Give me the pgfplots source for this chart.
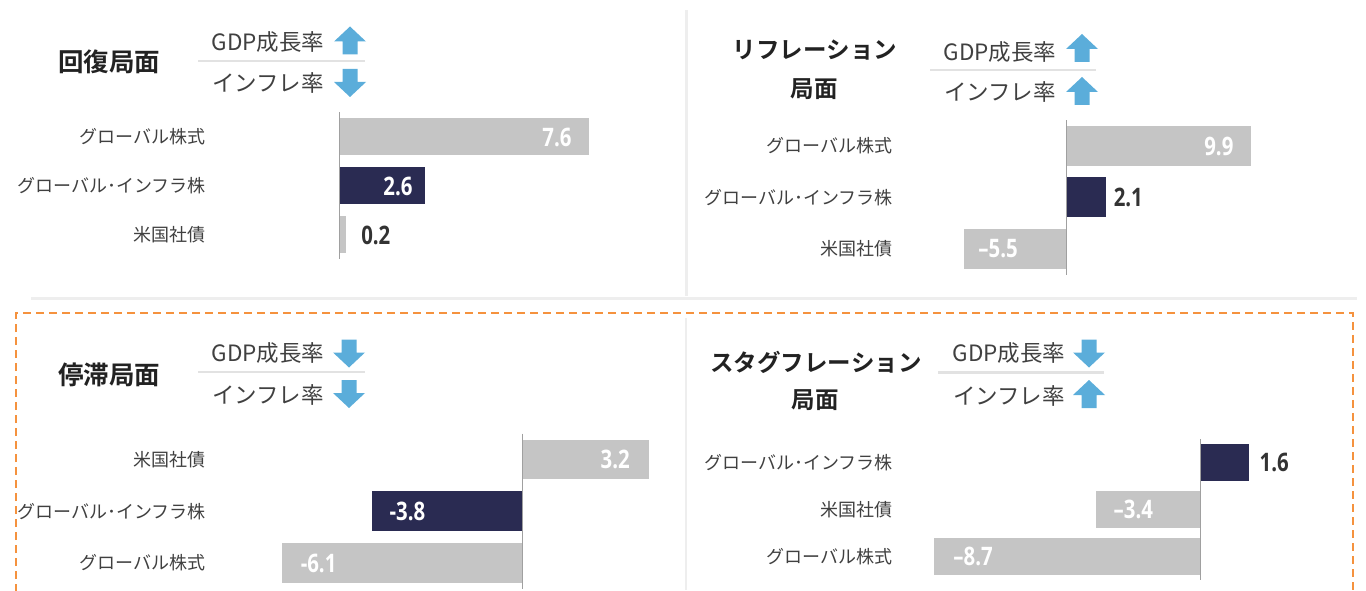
\documentclass[border=0pt]{standalone}
\usepackage{fontspec}
\usepackage{pgfplots}
\pgfplotsset{compat=1.18}
\setmainfont{Noto Sans CJK JP}[BoldFont={Noto Sans CJK JP Bold}]
\newfontfamily\valfam{Open Sans}[FakeStretch=0.8]
\definecolor{cgray}{HTML}{C5C5C5}
\definecolor{navy}{HTML}{2A2B52}
\definecolor{arrowblue}{HTML}{5BADDA}
\definecolor{labelc}{HTML}{404040}
\definecolor{valdark}{HTML}{333333}
\definecolor{titlec}{HTML}{222222}
\definecolor{axisc}{HTML}{A0A0A0}
\definecolor{sepc}{HTML}{E2E2E2}
\definecolor{framec}{HTML}{EEEEEE}
\definecolor{orangec}{HTML}{F5923E}
\newcommand\catfont{\fontsize{18}{20}\selectfont}
\newcommand\hdfont{\fontsize{22.5}{26}\selectfont}
\newcommand\titlefont{\fontsize{25.5}{30}\selectfont\bfseries}
\newcommand\titlefontb{\fontsize{23.5}{28}\selectfont\bfseries}
\newcommand\valfont{\valfam\bfseries\fontsize{25.5}{28}\selectfont}
\pgfplotsset{
  panel/.style={xbar, scale only axis, clip=false, y dir=reverse,
    ymin=-0.5, ymax=2.5, ytick={0,1,2}, xtick=\empty,
    axis line style={draw=none}, major tick length=0pt,
    yticklabel style={font=\catfont, text=labelc, inner sep=0pt, anchor=east},
    anchor=north west},
  bars/.style={draw=none, bar shift=0pt, nodes near coords={\pgfplotspointmeta},
    point meta=explicit symbolic},
  vin/.style={every node near coord/.append style={anchor=east, xshift=-#1pt, text=white, font=\valfont, inner sep=0pt}},
  vout/.style={every node near coord/.append style={anchor=west, xshift=#1pt, text=valdark, font=\valfont, inner sep=0pt}},
  vneg/.style={every node near coord/.append style={anchor=west, xshift=#1pt, text=white, font=\valfont, inner sep=0pt}},
}
\tikzset{
  uparr/.pic={\fill[arrowblue] (0,14) -- (16,-1) -- (7.5,-1) -- (7.5,-14) -- (-7.5,-14) -- (-7.5,-1) -- (-16,-1) -- cycle;},
  downarr/.pic={\fill[arrowblue] (0,-14) -- (16,1) -- (7.5,1) -- (7.5,14) -- (-7.5,14) -- (-7.5,1) -- (-16,1) -- cycle;},
}
\begin{document}
\begin{tikzpicture}[x=1pt,y=1pt]
\useasboundingbox (0,0) rectangle (1366,590);
% frames
\draw[framec, line width=3pt] (686,580) -- (686,294);
\draw[framec, line width=3pt] (31,291) -- (1357,291);
\draw[framec, line width=2pt] (686,272) -- (686,0);
\draw[orangec, line width=2pt, dash pattern=on 8pt off 5pt] (16,-2) -- (16,277) -- (1353,277) -- (1353,-2);

% ---------- Panel 1 ----------
\node[font=\titlefont, text=titlec] at (109,528) {回復局面};
\node[font=\hdfont, text=labelc] at (268,548) {GDP成長率};
\node[font=\hdfont, text=labelc] at (268,507) {インフレ率};
\draw[sepc, line width=2.5pt] (198,529) -- (365,529);
\pic at (350,549.5) {uparr};
\pic at (350,507) {downarr};
\begin{axis}[panel, at={(206pt,477.5pt)}, width=474pt, height=147pt,
  xmin=-4.0701, xmax=10.381, bar width=37pt,
  yticklabels={グローバル株式, グローバル･インフラ株, 米国社債}]
\addplot[bars, fill=cgray, vin=17] coordinates {(7.6,0) [7.6]};
\addplot[bars, fill=navy, vin=12] coordinates {(2.6,1) [2.6]};
\addplot[bars, fill=cgray, vout=15] coordinates {(0.2,2) [0.2]};
\draw[axisc, line width=1.2pt] (axis cs:0,-0.5) -- (axis cs:0,2.5);
\end{axis}

% ---------- Panel 2 ----------
\node[font=\titlefontb, text=titlec] at (815,540) {リフレーション};
\node[font=\titlefontb, text=titlec] at (814,501) {局面};
\node[font=\hdfont, text=labelc] at (1000,538) {GDP成長率};
\node[font=\hdfont, text=labelc] at (1000,498) {インフレ率};
\draw[sepc, line width=2.5pt] (930,520) -- (1096,520);
\pic at (1082,542) {uparr};
\pic at (1082,499) {uparr};
\begin{axis}[panel, at={(893pt,469.75pt)}, width=467pt, height=154.5pt,
  xmin=-9.328, xmax=15.780, bar width=40pt,
  yticklabels={グローバル株式, グローバル･インフラ株, 米国社債}]
\addplot[bars, fill=cgray, vin=17] coordinates {(9.9,0) [9.9]};
\addplot[bars, fill=navy, vout=8] coordinates {(2.1,1) [2.1]};
\addplot[bars, fill=cgray, vneg=14] coordinates {(-5.5,2) [–5.5]};
\draw[axisc, line width=1.2pt] (axis cs:0,-0.5) -- (axis cs:0,2.5);
\end{axis}

% ---------- Panel 3 ----------
\node[font=\titlefont, text=titlec] at (109,215) {停滞局面};
\node[font=\hdfont, text=labelc] at (268,237) {GDP成長率};
\node[font=\hdfont, text=labelc] at (268,195) {インフレ率};
\draw[sepc, line width=2.5pt] (198,218) -- (365,218);
\pic at (349,236.5) {downarr};
\pic at (349,196) {downarr};
\begin{axis}[panel, at={(206pt,156.4pt)}, width=474pt, height=155.25pt,
  xmin=-8.0127, xmax=3.9873, bar width=39.5pt,
  yticklabels={米国社債, グローバル･インフラ株, グローバル株式}]
\addplot[bars, fill=cgray, vin=19] coordinates {(3.2,0) [3.2]};
\addplot[bars, fill=navy, vneg=17] coordinates {(-3.8,1) [-3.8]};
\addplot[bars, fill=cgray, vneg=19] coordinates {(-6.1,2) [-6.1]};
\draw[axisc, line width=1.2pt] (axis cs:0,-0.5) -- (axis cs:0,2.5);
\end{axis}

% ---------- Panel 4 ----------
\node[font=\titlefontb, text=titlec] at (816,228) {スタグフレーション};
\node[font=\titlefontb, text=titlec] at (815,190) {局面};
\node[font=\hdfont, text=labelc] at (1009,237) {GDP成長率};
\node[font=\hdfont, text=labelc] at (1009,194) {インフレ率};
\draw[sepc, line width=2.5pt] (938,217.3) -- (1104,217.3);
\pic at (1089,236.5) {downarr};
\pic at (1089,196) {uparr};
\begin{axis}[panel, at={(893pt,151pt)}, width=467pt, height=141pt,
  xmin=-10.049, xmax=5.212, bar width=37pt,
  yticklabels={グローバル･インフラ株, 米国社債, グローバル株式}]
\addplot[bars, fill=navy, vout=10] coordinates {(1.6,0) [1.6]};
\addplot[bars, fill=cgray, vneg=17] coordinates {(-3.4,1) [–3.4]};
\addplot[bars, fill=cgray, vneg=19] coordinates {(-8.7,2) [–8.7]};
\draw[axisc, line width=1.2pt] (axis cs:0,-0.5) -- (axis cs:0,2.5);
\end{axis}
\end{tikzpicture}
\end{document}
